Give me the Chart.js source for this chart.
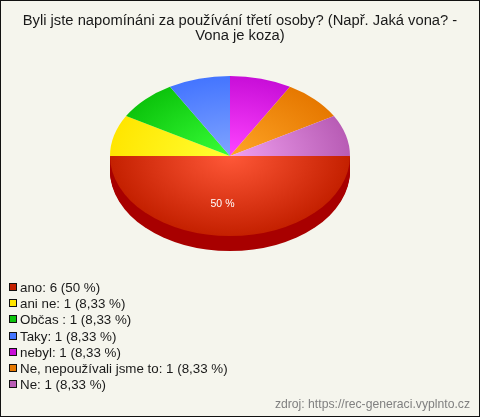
<!DOCTYPE html>
<html>
<head>
<meta charset="utf-8">
<script src="https://cdn.jsdelivr.net/npm/chart.js@4"></script>
<style>
    html, body { margin: 0; padding: 0; background: #f5f5ed; }
    #wrap { position: relative; width: 480px; height: 417px; overflow: hidden; }
    #frame { position: absolute; left: 0; top: 0; width: 478px; height: 415px; border: 1px solid #111; }
    canvas { position: absolute; left: 0; top: 0; }
    #titulek { position: absolute; left: 0; top: 13px; width: 480px; text-align: center; font: 14.75px/15px "Liberation Sans", Arial, sans-serif; color: #1a1a1a; white-space: nowrap; }
    #legenda { position: absolute; left: 9px; top: 280px; font: 13.35px/16.2px "Liberation Sans", Arial, sans-serif; color: #1a1a1a; }
    #legenda div { height: 16.2px; white-space: nowrap; }
    #legenda i { display: inline-block; width: 6px; height: 6px; border: 1px solid #111; margin-right: 3px; vertical-align: 1px; }
    #zdroj { position: absolute; right: 10px; top: 397px; font: 12.2px "Liberation Sans", Arial, sans-serif; color: #808080; }
</style>
</head>
<body>
<div id="wrap">
    <canvas id="graf" width="480" height="417"></canvas>
    <div id="frame"></div>
    <div id="titulek"></div>
    <div id="legenda"></div>
    <div id="zdroj">zdroj: https://rec-generaci.vyplnto.cz</div>
</div>
<script>
const titulek = ["Byli jste napomínáni za používání třetí osoby? (Např. Jaká vona? -", "Vona je koza)"];
const odpovedi = ["ano", "ani ne", "Občas ", "Taky", "nebyl", "Ne, nepoužívali jsme to", "Ne"];
const pocty = [6, 1, 1, 1, 1, 1, 1];
const procenta = ["50 %", "8,33 %", "8,33 %", "8,33 %", "8,33 %", "8,33 %", "8,33 %"];

const barvyOkraj = ["#c42000", "#ffe600", "#0cc40c", "#4475ff", "#c80ed8", "#e67800", "#b85cb5"];
const barvyStred = ["#ff5838", "#ffff33", "#38ff38", "#80a4ff", "#ff44ff", "#ffa526", "#f0a0f0"];

const ZPLOSTENI = 2 / 3;   // pomer os elipsy
const HLOUBKA = 15;        // vyska boku kolace

// Radialni prechod od stredu kolace
function prechod(ctx) {
    const plocha = ctx.chart.chartArea;
    if (!plocha) return barvyOkraj[ctx.dataIndex];
    const x = (plocha.left + plocha.right) / 2;
    const y = (plocha.top + plocha.bottom) / 2;
    const r = Math.min(plocha.width, plocha.height) / 2;
    const g = ctx.chart.ctx.createRadialGradient(x, y, 0, x, y, r);
    g.addColorStop(0, barvyStred[ctx.dataIndex]);
    g.addColorStop(1, barvyOkraj[ctx.dataIndex]);
    return g;
}

// Zplosti kolac na elipsu a domaluje bok
const kolac3d = {
    id: "kolac3d",
    beforeDatasetsDraw(chart) {
        const ctx = chart.ctx;
        const a = chart.getDatasetMeta(0).data[0];
        ctx.save();
        ctx.translate(0, a.y);
        ctx.scale(1, ZPLOSTENI);
        ctx.translate(0, -a.y);
        ctx.fillStyle = "#a80000";
        for (let d = 1; d <= HLOUBKA; d++) {
            ctx.beginPath();
            ctx.arc(a.x, a.y + d / ZPLOSTENI, a.outerRadius, a.startAngle, a.endAngle);
            ctx.closePath();
            ctx.fill();
        }
    },
    afterDatasetsDraw(chart) {
        const ctx = chart.ctx;
        ctx.restore();
        // popisek jen u velke vysece
        const a = chart.getDatasetMeta(0).data[0];
        ctx.save();
        ctx.fillStyle = "#ffffff";
        ctx.font = '10.5px "Liberation Sans", Arial, sans-serif';
        ctx.textAlign = "center";
        ctx.textBaseline = "middle";
        ctx.fillText(procenta[0], a.x - 7.5, a.y + a.outerRadius * 0.6 * ZPLOSTENI);
        ctx.restore();
    }
};

new Chart(document.getElementById("graf"), {
    type: "pie",
    data: {
        labels: odpovedi,
        datasets: [{
            data: pocty,
            backgroundColor: prechod,
            borderWidth: 0
        }]
    },
    options: {
        responsive: false,
        animation: false,
        rotation: 90,
        layout: { padding: { left: 110, right: 130, top: 36, bottom: 141 } },
        plugins: {
            legend: { display: false },
            tooltip: { enabled: false }
        }
    },
    plugins: [kolac3d]
});

document.getElementById("titulek").innerHTML = titulek.join("<br>");

const legenda = document.getElementById("legenda");
odpovedi.forEach((o, i) => {
    const r = document.createElement("div");
    r.innerHTML = `<i style="background:${barvyOkraj[i]}"></i>${o}: ${pocty[i]} (${procenta[i]})`;
    legenda.appendChild(r);
});
</script>
</body>
</html>
